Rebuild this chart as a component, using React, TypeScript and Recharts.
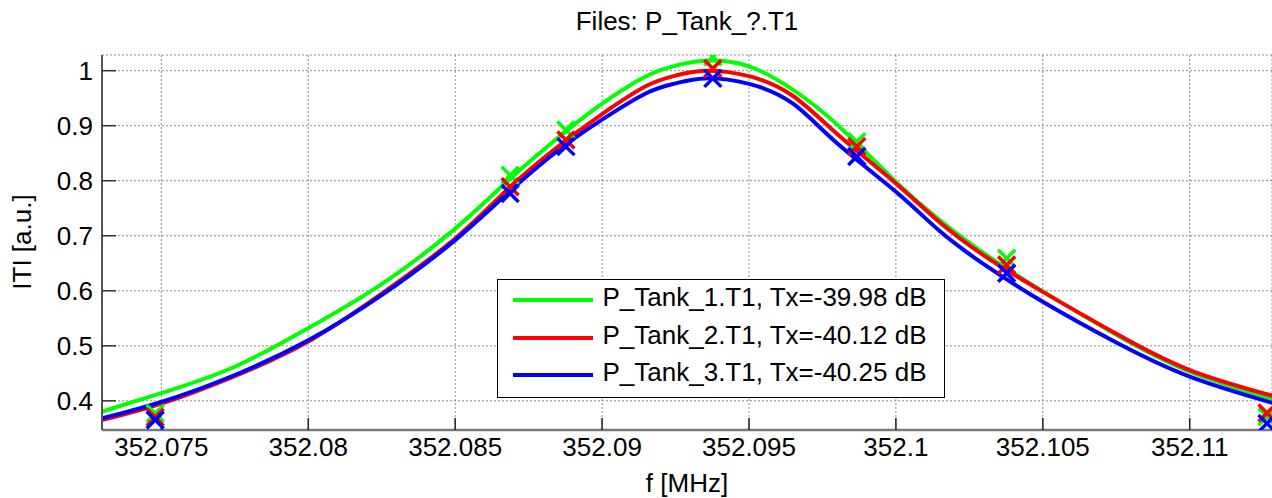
import {
  ComposedChart,
  Line,
  Scatter,
  XAxis,
  YAxis,
  CartesianGrid,
  Legend,
} from 'recharts'

const freq = [
  352.0729, 352.075, 352.0775, 352.08, 352.0825, 352.085, 352.0868, 352.0885, 352.09, 352.0915, 352.0925,
  352.0935, 352.095, 352.0965, 352.098, 352.1, 352.1015, 352.103, 352.105, 352.1075, 352.11, 352.1129,
]
const tank1 = [
  0.379, 0.414, 0.462, 0.532, 0.612, 0.713, 0.8, 0.878, 0.94, 0.99, 1.009,
  1.018, 1.008, 0.965, 0.902, 0.798, 0.728, 0.668, 0.599, 0.52, 0.453, 0.402,
]
const tank2 = [
  0.364, 0.395, 0.445, 0.508, 0.595, 0.695, 0.785, 0.862, 0.921, 0.972, 0.991,
  1.0, 0.99, 0.954, 0.885, 0.795, 0.724, 0.664, 0.598, 0.522, 0.456, 0.408,
]
const tank3 = [
  0.367, 0.398, 0.447, 0.51, 0.592, 0.692, 0.778, 0.855, 0.911, 0.959, 0.977,
  0.986, 0.976, 0.94, 0.868, 0.78, 0.708, 0.648, 0.58, 0.506, 0.444, 0.395,
]

// measured points (x markers)
const markFreq = [352.07479, 352.08687, 352.08877, 352.09377, 352.09867, 352.10377, 352.11263]
const marks1 = [0.377, 0.81, 0.892, 1.025, 0.871, 0.659, 0.371]
const marks2 = [0.37, 0.789, 0.874, 1.004, 0.862, 0.647, 0.378]
const marks3 = [0.365, 0.777, 0.862, 0.986, 0.844, 0.632, 0.359]

const xTicks = [352.075, 352.08, 352.085, 352.09, 352.095, 352.1, 352.105, 352.11]
const yTicks = [0.4, 0.5, 0.6, 0.7, 0.8, 0.9, 1]
const xDomain = [352.07298, 352.1128]
const yDomain = [0.347, 1.0285]

const seriesNames = [
  'P_Tank_1.T1, Tx=-39.98 dB',
  'P_Tank_2.T1, Tx=-40.12 dB',
  'P_Tank_3.T1, Tx=-40.25 dB',
]
const colors = ['#00ff00', '#ff0000', '#0000ff']

const FONT = "'Liberation Sans', Arial, Helvetica, sans-serif"
const FS = 26

const toPoints = (xs: number[], ys: number[]) => xs.map((f, i) => ({ f, v: ys[i] }))

const curves = [tank1, tank2, tank3].map(ys => toPoints(freq, ys))
const markers = [marks1, marks2, marks3].map(ys => toPoints(markFreq, ys))

const makeCross = (color: string) => (props: any) => {
  const { cx, cy } = props
  const s = 8.5
  return (
    <path
      d={`M${cx - s},${cy - s}L${cx + s},${cy + s}M${cx + s},${cy - s}L${cx - s},${cy + s}`}
      stroke={color}
      strokeWidth={3.5}
      fill="none"
    />
  )
}

const LegendBox = () => (
  <div
    style={{
      position: 'relative',
      width: 448,
      height: 119,
      boxSizing: 'border-box',
      border: '1.5px solid #000',
      background: '#fff',
      fontFamily: FONT,
      fontSize: FS,
      color: '#000',
    }}
  >
    {seriesNames.map((name, i) => (
      <div key={name}>
        <div
          style={{
            position: 'absolute',
            left: 14.5,
            top: 18.2 + 37.5 * i,
            width: 80,
            height: 4,
            background: colors[i],
          }}
        />
        <div
          style={{
            position: 'absolute',
            left: 104.5,
            top: 4 + 37.5 * i,
            lineHeight: FS + 'px',
            whiteSpace: 'nowrap',
          }}
        >
          {name}
        </div>
      </div>
    ))}
  </div>
)

export default function App() {
  return (
    <div
      style={{
        position: 'absolute',
        left: 0,
        top: 0,
        width: 1272,
        height: 498,
        background: '#fff',
        fontFamily: FONT,
        color: '#000',
      }}
    >
      <div
        style={{
          position: 'absolute',
          left: 687,
          top: 8,
          transform: 'translateX(-50%)',
          fontSize: FS,
          lineHeight: FS + 'px',
          whiteSpace: 'nowrap',
        }}
      >
        Files: P_Tank_?.T1
      </div>
      <div
        style={{
          position: 'absolute',
          left: 22,
          top: 242,
          transform: 'translate(-50%, -50%) rotate(-90deg)',
          fontSize: FS,
          lineHeight: FS + 'px',
          whiteSpace: 'nowrap',
        }}
      >
        ITI [a.u.]
      </div>
      <div
        style={{
          position: 'absolute',
          left: 687,
          top: 470,
          transform: 'translateX(-50%)',
          fontSize: FS,
          lineHeight: FS + 'px',
          whiteSpace: 'nowrap',
        }}
      >
        f [MHz]
      </div>

      <ComposedChart width={1272} height={498} margin={{ top: 55, right: 0, left: 0, bottom: 0 }}>
        <CartesianGrid stroke="#8c8c8c" strokeDasharray="2 2" />
        <XAxis
          type="number"
          dataKey="f"
          domain={xDomain}
          ticks={xTicks}
          interval={0}
          allowDataOverflow
          height={68}
          tickSize={-12}
          tickMargin={20}
          tickFormatter={(v: number) => String(v)}
          tick={{ fill: '#000', fontSize: FS, fontFamily: FONT }}
          tickLine={{ stroke: '#222', strokeWidth: 1.5 }}
          axisLine={{ stroke: '#7a7a7a', strokeWidth: 2.5 }}
        />
        <XAxis
          xAxisId="top"
          orientation="top"
          type="number"
          dataKey="f"
          domain={xDomain}
          ticks={xTicks}
          allowDataOverflow
          height={0}
          mirror
          tickSize={3}
          tick={false}
          axisLine={false}
          tickLine={{ stroke: '#222', strokeWidth: 2 }}
        />
        <YAxis
          type="number"
          dataKey="v"
          domain={yDomain}
          ticks={yTicks}
          interval={0}
          allowDataOverflow
          width={102}
          tickSize={-14}
          tickMargin={23}
          tickFormatter={(v: number) => String(v)}
          tick={{ fill: '#000', fontSize: FS, fontFamily: FONT }}
          tickLine={{ stroke: '#333', strokeWidth: 1.5 }}
          axisLine={{ stroke: '#555', strokeWidth: 2 }}
        />
        {curves.map((pts, i) => (
          <Line
            key={'c' + i}
            data={pts}
            dataKey="v"
            type="natural"
            stroke={colors[i]}
            strokeWidth={4}
            dot={false}
            activeDot={false}
            isAnimationActive={false}
            name={seriesNames[i]}
          />
        ))}
        {markers.map((pts, i) => (
          <Scatter
            key={'m' + i}
            data={pts}
            dataKey="v"
            fill={colors[i]}
            shape={makeCross(colors[i])}
            isAnimationActive={false}
            legendType="none"
          />
        ))}
        <Legend
          layout="vertical"
          align="center"
          verticalAlign="middle"
          content={() => <LegendBox />}
          wrapperStyle={{ position: 'absolute', left: 497, top: 279, width: 448, height: 119 }}
        />
      </ComposedChart>
    </div>
  )
}
